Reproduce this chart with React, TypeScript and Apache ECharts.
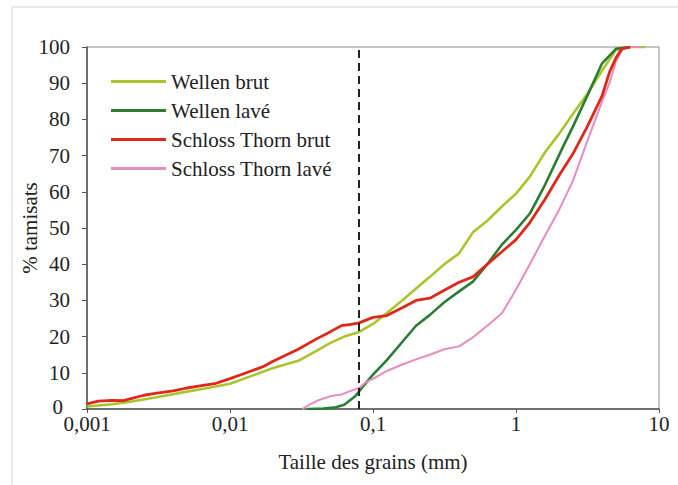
import React, { useEffect, useRef } from "react";
import * as echarts from "echarts";

const seriesNames = ["Wellen brut", "Wellen lavé", "Schloss Thorn brut", "Schloss Thorn lavé"];
const seriesColors = ["#a9c52c", "#2b7d34", "#e0281a", "#e68cc0"];

const wellenBrutSize = [0.001, 0.0015, 0.002, 0.003, 0.005, 0.007, 0.01, 0.015, 0.02, 0.03, 0.04, 0.05, 0.063, 0.08, 0.1, 0.125, 0.16, 0.2, 0.25, 0.315, 0.4, 0.5, 0.63, 0.8, 1, 1.25, 1.6, 2, 2.5, 3.15, 4, 5, 6.3, 8];
const wellenBrutPct = [0.7, 1.3, 2.0, 3.2, 4.8, 5.8, 7.0, 9.5, 11.3, 13.3, 16.0, 18.2, 20.0, 21.3, 23.5, 26.5, 30.0, 33.3, 36.5, 40.0, 43.0, 48.8, 52.0, 56.0, 59.5, 64.2, 71, 76, 81.5, 87, 93.5, 99.2, 100, 100];

const wellenLaveSize = [0.035, 0.045, 0.055, 0.063, 0.075, 0.085, 0.1, 0.125, 0.16, 0.2, 0.25, 0.315, 0.4, 0.5, 0.63, 0.8, 1, 1.25, 1.6, 2.13, 2.5, 3.15, 4, 5, 6.3];
const wellenLavePct = [0, 0.1, 0.5, 1.2, 3.5, 6.2, 9.5, 13.5, 18.5, 23, 26, 29.5, 32.5, 35.2, 40, 45.5, 49.5, 54, 62, 72.4, 78, 86.5, 95.5, 99.5, 100];

const thornBrutSize = [0.001, 0.0012, 0.0015, 0.0018, 0.002, 0.0025, 0.003, 0.004, 0.005, 0.006, 0.008, 0.01, 0.013, 0.017, 0.02, 0.03, 0.04, 0.05, 0.06, 0.07, 0.08, 0.1, 0.125, 0.16, 0.2, 0.25, 0.315, 0.4, 0.5, 0.63, 0.8, 1, 1.25, 1.6, 2, 2.5, 3.15, 4, 4.5, 5, 5.5, 6.3];
const thornBrutPct = [1.4, 2.2, 2.4, 2.3, 2.8, 3.8, 4.3, 5.0, 5.8, 6.3, 7.1, 8.4, 10.0, 11.7, 13.2, 16.5, 19.3, 21.3, 23.0, 23.4, 23.8, 25.3, 25.8, 28.0, 30.0, 30.6, 32.8, 35, 36.5, 40, 43.5, 46.8, 51.5, 58, 64.5, 70.5, 78, 86.5, 93, 97, 99.5, 100];

const thornLaveSize = [0.032, 0.036, 0.042, 0.05, 0.06, 0.07, 0.08, 0.09, 0.1, 0.125, 0.16, 0.2, 0.25, 0.315, 0.4, 0.5, 0.63, 0.8, 1, 1.25, 1.6, 2, 2.5, 3.15, 4, 4.5, 5, 5.6, 6.3, 7.5];
const thornLavePct = [0, 1.2, 2.5, 3.5, 4.0, 5.0, 5.8, 7.5, 8.3, 10.5, 12.3, 13.7, 15.0, 16.5, 17.3, 19.8, 23, 26.5, 33, 40, 48, 55, 63, 74, 85, 90, 96, 99.6, 100, 100];

const limitSize = 0.08;
const xTickLabels: Record<string, string> = { "0.001": "0,001", "0.01": "0,01", "0.1": "0,1", "1": "1", "10": "10" };

const FONT = "Liberation Serif";
const FS = 21;

export default function App() {
  const ref = useRef<HTMLDivElement>(null);
  useEffect(() => {
    if (!ref.current) return;
    const chart = echarts.init(ref.current, null, { renderer: "svg" });
    const sizes = [wellenBrutSize, wellenLaveSize, thornBrutSize, thornLaveSize];
    const pcts = [wellenBrutPct, wellenLavePct, thornBrutPct, thornLavePct];
    const widths = [2.6, 2.6, 2.8, 2];
    const series: any[] = seriesNames.map((name, i) => ({
      name,
      type: "line",
      data: sizes[i].map((s, j) => [s, pcts[i][j]]),
      symbol: "none",
      showSymbol: false,
      z: 3 + (i === 2 ? 1 : 0),
      lineStyle: { color: seriesColors[i], width: widths[i] },
      itemStyle: { color: seriesColors[i] },
    }));
    series.push({
      name: "limit",
      type: "line",
      data: [],
      silent: true,
      markLine: {
        silent: true,
        symbol: "none",
        label: { show: false },
        lineStyle: { color: "#222", width: 2, type: [8, 5] },
        data: [{ xAxis: limitSize }],
      },
    });
    chart.setOption({
      animation: false,
      backgroundColor: "#fff",
      textStyle: { fontFamily: FONT },
      graphic: [
        {
          type: "rect",
          shape: { x: 12, y: 7, width: 700, height: 500 },
          style: { fill: "none", stroke: "#d4d4d4", lineWidth: 1 },
          silent: true,
        },
      ],
      grid: { left: 87, right: 19, top: 47, bottom: 76, show: true, borderColor: "#8a8a8a", borderWidth: 1, backgroundColor: "transparent" },
      legend: {
        data: seriesNames,
        orient: "vertical",
        left: 106,
        top: 66,
        icon: "rect",
        itemWidth: 55,
        itemHeight: 3,
        itemGap: 8,
        textStyle: { fontFamily: FONT, fontSize: FS, color: "#222", lineHeight: 21 },
      },
      xAxis: {
        type: "log",
        logBase: 10,
        min: 0.001,
        max: 10,
        name: "Taille des grains (mm)",
        nameLocation: "middle",
        nameGap: 42,
        nameMoveOverlap: false,
        nameTextStyle: { fontFamily: FONT, fontSize: FS, color: "#222" },
        axisLine: { show: true, lineStyle: { color: "#555", width: 1.5 } },
        axisTick: { show: true, inside: false, length: 4, lineStyle: { color: "#555" } },
        minorTick: { show: false },
        splitLine: { show: false },
        axisLabel: {
          fontFamily: FONT,
          fontSize: FS,
          lineHeight: 16,
          color: "#222",
          margin: 7,
          formatter: (v: number) => {
            const k = String(Number(v.toPrecision(3)));
            return xTickLabels[k] ?? k.replace(".", ",");
          },
        },
      },
      yAxis: {
        type: "value",
        min: 0,
        max: 100,
        interval: 10,
        name: "% tamisats",
        nameLocation: "middle",
        nameGap: 47,
        nameMoveOverlap: false,
        nameRotate: 90,
        nameTextStyle: { fontFamily: FONT, fontSize: FS, color: "#222" },
        axisLine: { show: true, lineStyle: { color: "#555", width: 1.5 } },
        axisTick: { show: true, inside: false, length: 5, lineStyle: { color: "#555" } },
        splitLine: { show: false },
        axisLabel: {
          fontFamily: FONT,
          fontSize: FS,
          lineHeight: 10,
          color: "#222",
          margin: 17,
          formatter: (v: number) => (v === 0 ? "{z|0}" : String(v)),
          rich: { z: { fontFamily: FONT, fontSize: FS, color: "#222", padding: [0, 7, 4, 0], lineHeight: 10 } },
        },
      },
      series,
    });
    return () => chart.dispose();
  }, []);
  return <div ref={ref} style={{ width: 678, height: 485, position: "absolute", left: 0, top: 0 }} />;
}
